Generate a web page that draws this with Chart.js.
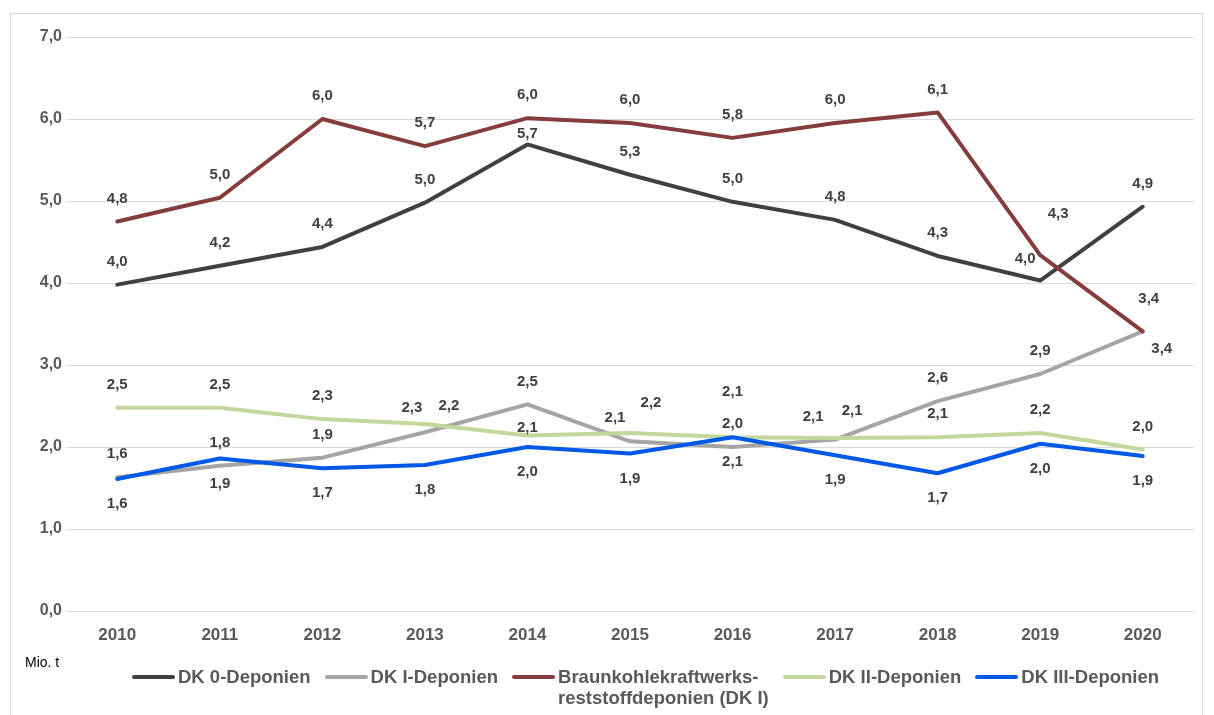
<!DOCTYPE html>
<html>
<head>
<meta charset="utf-8">
<script src="https://cdn.jsdelivr.net/npm/chart.js@4.4.1/dist/chart.umd.min.js"></script>
<style>
    html, body { margin: 0; padding: 0; background: #fff; }
    body { width: 1214px; height: 715px; position: relative; overflow: hidden; font-family: "Liberation Sans", Arial, sans-serif; }
    #frame { position: absolute; left: 10px; top: 13px; width: 1193px; height: 720px; border: 1px solid #d9d9d9; box-sizing: border-box; }
    #chart-box { position: absolute; left: 0; top: 0; width: 1214px; height: 715px; }
    #unit { position: absolute; left: 25px; top: 654px; font-size: 14px; color: #000; }
    #legend { position: absolute; left: 132px; top: 666px; display: flex; align-items: flex-start; gap: 14px; }
    .item { display: flex; align-items: flex-start; }
    .swatch { width: 43px; height: 4px; border-radius: 2px; margin-top: 9px; margin-right: 3px; }
    .txt { font-size: 18.5px; font-weight: bold; color: #595959; line-height: 21px; white-space: pre; }
</style>
</head>
<body>
<div id="frame"></div>
<div id="chart-box"><canvas id="chart-deponien"></canvas></div>
<div id="unit">Mio. t</div>
<div id="legend"></div>
<script>
const years = ["2010", "2011", "2012", "2013", "2014", "2015", "2016", "2017", "2018", "2019", "2020"];

const dk0 = [3.98, 4.21, 4.44, 4.98, 5.69, 5.32, 4.99, 4.77, 4.33, 4.03, 4.93];
const dk1 = [1.63, 1.77, 1.87, 2.18, 2.52, 2.07, 2.00, 2.09, 2.56, 2.89, 3.41];
const braunkohle = [4.75, 5.04, 6.00, 5.67, 6.01, 5.95, 5.77, 5.95, 6.08, 4.34, 3.41];
const dk2 = [2.48, 2.48, 2.34, 2.28, 2.14, 2.17, 2.12, 2.11, 2.12, 2.17, 1.97];
const dk3 = [1.61, 1.86, 1.74, 1.78, 2.00, 1.92, 2.12, 1.90, 1.68, 2.04, 1.89];

const yTicks = [0, 1, 2, 3, 4, 5, 6, 7];

// label placement: default offset per series, plus a few nudges like in the original
const series = [
    { label: ["DK 0-Deponien"], data: dk0, color: "#404040", order: 4,
      off: [0, -23], nudge: { 4: [0, -11], 9: [-15, -22] } },
    { label: ["DK I-Deponien"], data: dk1, color: "#a5a5a5", order: 3,
      off: [0, -23], nudge: { 3: [24, -26], 5: [-15, -23], 7: [17, -29], 10: [19, 17] } },
    { label: ["Braunkohlekraftwerks-", "reststoffdeponien (DK I)"], data: braunkohle, color: "#843c3c", order: 2,
      off: [0, -23], nudge: { 9: [18, -41], 10: [6, -33] } },
    { label: ["DK II-Deponien"], data: dk2, color: "#c3d69b", order: 1,
      off: [0, -23], nudge: { 3: [-13, -16], 4: [0, -8], 5: [21, -30], 6: [0, -45], 7: [-22, -21] } },
    { label: ["DK III-Deponien"], data: dk3, color: "#0058e6", order: 0,
      off: [0, 25], nudge: {} },
];

function fmt(v){
    return v.toFixed(1).replace(".", ",");
}

const pointLabels = {
    id: "pointLabels",
    afterDatasetsDraw(chart){
        const ctx = chart.ctx;
        ctx.save();
        ctx.font = "bold 15px 'Liberation Sans', Arial, sans-serif";
        ctx.fillStyle = "#404040";
        ctx.textAlign = "center";
        ctx.textBaseline = "middle";
        series.forEach((s, di) => {
            const meta = chart.getDatasetMeta(di);
            meta.data.forEach((pt, i) => {
                const o = s.nudge[i] || s.off;
                ctx.fillText(fmt(s.data[i]), pt.x + o[0], pt.y + o[1]);
            });
        });
        ctx.restore();
    }
};

new Chart(document.getElementById("chart-deponien"), {
    type: "line",
    data: {
        labels: years,
        datasets: series.map(s => ({
            label: s.label.join(" "),
            data: s.data,
            borderColor: s.color,
            backgroundColor: s.color,
            borderWidth: 4,
            pointRadius: 0,
            tension: 0,
            order: s.order,
            borderCapStyle: "round",
            borderJoinStyle: "round",
        }))
    },
    options: {
        responsive: true,
        maintainAspectRatio: false,
        animation: false,
        layout: {
            padding: { left: 0, right: 20, top: 37, bottom: 64 }
        },
        plugins: {
            legend: { display: false },
            tooltip: { enabled: false },
        },
        scales: {
            x: {
                offset: true,
                grid: { display: false },
                border: { display: false },
                ticks: {
                    color: "#595959",
                    font: { size: 17, weight: "bold", family: "'Liberation Sans', Arial, sans-serif" },
                    padding: 6,
                    maxRotation: 0,
                },
                afterFit: scale => { scale.height = 40; }
            },
            y: {
                min: 0,
                max: 7,
                afterBuildTicks: scale => { scale.ticks = yTicks.map(v => ({ value: v })); },
                grid: { color: "#d9d9d9", lineWidth: 1, drawTicks: false },
                border: { display: false },
                ticks: {
                    color: "#595959",
                    font: { size: 16, weight: "bold", family: "'Liberation Sans', Arial, sans-serif" },
                    padding: 4,
                    callback: v => fmt(v),
                },
                afterFit: scale => { scale.width = 66; }
            }
        }
    },
    plugins: [pointLabels]
});

const legend = document.getElementById("legend");
series.forEach(s => {
    const item = document.createElement("div");
    item.className = "item";
    item.innerHTML = `<div class="swatch" style="background:${s.color}"></div><div class="txt">${s.label.join("\n")}</div>`;
    legend.appendChild(item);
});
</script>
</body>
</html>
